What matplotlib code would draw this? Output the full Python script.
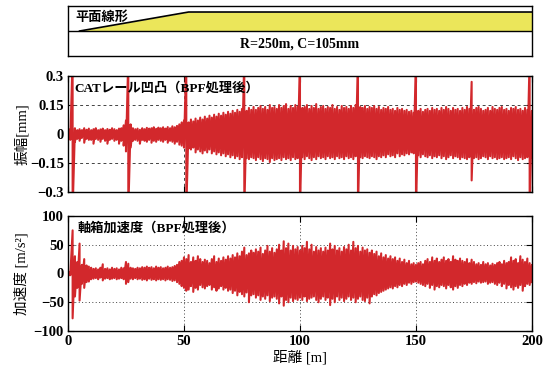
import numpy as np
import matplotlib
matplotlib.use('Agg')
import matplotlib.pyplot as plt

plt.rcParams['font.family'] = ['Liberation Serif', 'Noto Sans CJK JP']
plt.rcParams['font.weight'] = 'bold'
plt.rcParams['font.size'] = 10

# 距離 [m]（1 m ごと）
dist = np.arange(0, 201)

# 平面線形（緩和曲線 → 円曲線）
curve_x = [5, 52, 200]
curve_y = [0.5, 0.88, 0.88]

# CATレール凹凸（上側・下側包絡）[mm]
rail_upper = [
    0.02, 0.025, 0.40, 0.03, 0.02, 0.025, 0.02, 0.03, 0.022, 0.028,
    0.02, 0.025, 0.03, 0.02, 0.024, 0.028, 0.02, 0.026, 0.022, 0.03,
    0.025, 0.02, 0.028, 0.03, 0.045, 0.07, 0.40, 0.05, 0.03, 0.025,
    0.028, 0.022, 0.03, 0.025, 0.032, 0.028, 0.03, 0.035, 0.027, 0.033,
    0.03, 0.035, 0.028, 0.036, 0.03, 0.04, 0.035, 0.042, 0.05, 0.06,
    0.07, 0.40, 0.06, 0.075, 0.065, 0.08, 0.07, 0.085, 0.075, 0.09,
    0.08, 0.095, 0.085, 0.1, 0.09, 0.105, 0.095, 0.11, 0.1, 0.115,
    0.105, 0.12, 0.11, 0.125, 0.115, 0.13, 0.40, 0.12, 0.135, 0.125,
    0.14, 0.125, 0.135, 0.145, 0.13, 0.14, 0.125, 0.15, 0.135, 0.14,
    0.13, 0.15, 0.135, 0.145, 0.155, 0.13, 0.145, 0.135, 0.15, 0.14,
    0.40, 0.135, 0.14, 0.15, 0.13, 0.145, 0.135, 0.155, 0.13, 0.14,
    0.145, 0.13, 0.14, 0.135, 0.15, 0.13, 0.14, 0.125, 0.145, 0.135,
    0.14, 0.13, 0.145, 0.135, 0.15, 0.40, 0.14, 0.135, 0.145, 0.13,
    0.14, 0.135, 0.145, 0.13, 0.14, 0.125, 0.135, 0.13, 0.14, 0.125,
    0.13, 0.12, 0.135, 0.125, 0.13, 0.12, 0.125, 0.115, 0.12, 0.11,
    0.40, 0.12, 0.13, 0.115, 0.125, 0.13, 0.12, 0.135, 0.125, 0.13,
    0.12, 0.135, 0.125, 0.14, 0.13, 0.12, 0.135, 0.125, 0.13, 0.12,
    0.135, 0.125, 0.14, 0.13, 0.27, 0.125, 0.135, 0.14, 0.13, 0.12,
    0.125, 0.135, 0.12, 0.14, 0.13, 0.125, 0.135, 0.14, 0.125, 0.13,
    0.12, 0.135, 0.13, 0.14, 0.125, 0.13, 0.12, 0.135, 0.125, 0.40,
    0.12]
rail_lower = [
    -0.025, -0.03, -0.40, -0.04, -0.025, -0.035, -0.02, -0.045, -0.025, -0.03,
    -0.03, -0.05, -0.025, -0.03, -0.04, -0.025, -0.035, -0.05, -0.03, -0.025,
    -0.035, -0.03, -0.05, -0.035, -0.06, -0.09, -0.40, -0.07, -0.035, -0.03,
    -0.035, -0.05, -0.03, -0.035, -0.04, -0.03, -0.045, -0.035, -0.04, -0.03,
    -0.035, -0.04, -0.03, -0.045, -0.035, -0.04, -0.05, -0.04, -0.055, -0.06,
    -0.07, -0.40, -0.075, -0.08, -0.07, -0.095, -0.08, -0.09, -0.1, -0.085,
    -0.095, -0.08, -0.1, -0.09, -0.105, -0.095, -0.11, -0.1, -0.115, -0.105,
    -0.12, -0.11, -0.125, -0.115, -0.13, -0.12, -0.40, -0.125, -0.13, -0.12,
    -0.125, -0.135, -0.12, -0.13, -0.14, -0.125, -0.13, -0.145, -0.125, -0.135,
    -0.13, -0.125, -0.135, -0.12, -0.13, -0.125, -0.135, -0.12, -0.13, -0.125,
    -0.40, -0.12, -0.13, -0.115, -0.125, -0.135, -0.12, -0.13, -0.115, -0.125,
    -0.12, -0.13, -0.115, -0.125, -0.12, -0.13, -0.115, -0.125, -0.12, -0.13,
    -0.115, -0.125, -0.12, -0.13, -0.115, -0.40, -0.12, -0.125, -0.115, -0.12,
    -0.125, -0.115, -0.12, -0.13, -0.115, -0.12, -0.11, -0.12, -0.105, -0.115,
    -0.11, -0.12, -0.1, -0.115, -0.105, -0.11, -0.1, -0.105, -0.095, -0.1,
    -0.40, -0.11, -0.12, -0.105, -0.115, -0.12, -0.11, -0.125, -0.115, -0.12,
    -0.11, -0.125, -0.115, -0.13, -0.12, -0.11, -0.125, -0.115, -0.12, -0.13,
    -0.12, -0.125, -0.13, -0.12, -0.24, -0.125, -0.12, -0.13, -0.125, -0.115,
    -0.12, -0.13, -0.115, -0.125, -0.12, -0.13, -0.125, -0.12, -0.13, -0.125,
    -0.12, -0.13, -0.115, -0.125, -0.135, -0.12, -0.13, -0.125, -0.12, -0.40,
    -0.12]

# 軸箱加速度（上側・下側包絡）[m/s^2]
acc_upper = [
    5, 3, 75, 30, 20, 52, 15, 25, 14, 12,
    10, 8, 9, 7, 10, 16, 8, 9, 7, 10,
    8, 9, 7, 10, 9, 20, 17, 10, 9, 8,
    10, 9, 11, 10, 12, 10, 11, 9, 12, 10,
    11, 9, 10, 12, 10, 11, 13, 15, 20, 22,
    28, 25, 32, 20, 28, 22, 30, 25, 20, 24,
    22, 18, 25, 30, 20, 26, 22, 28, 24, 30,
    26, 32, 28, 35, 30, 38, 45, 32, 35, 40,
    36, 42, 38, 45, 34, 40, 48, 38, 44, 36,
    42, 50, 40, 56, 44, 52, 40, 48, 42, 46,
    40, 48, 44, 55, 42, 50, 38, 46, 40, 44,
    38, 45, 40, 52, 42, 48, 40, 44, 38, 46,
    42, 50, 40, 55, 44, 48, 38, 45, 40, 42,
    36, 40, 34, 38, 30, 35, 28, 32, 26, 30,
    25, 28, 22, 26, 20, 24, 18, 22, 16, 18,
    15, 18, 20, 16, 22, 25, 20, 28, 22, 26,
    20, 24, 28, 22, 25, 20, 30, 24, 22, 26,
    22, 20, 25, 18, 24, 20, 16, 18, 15, 20,
    16, 18, 14, 17, 15, 18, 20, 16, 22, 18,
    20, 28, 22, 25, 18, 30, 24, 20, 26, 18,
    15]
acc_lower = [
    -5, -3, -78, -40, -25, -47, -18, -25, -15, -14,
    -10, -9, -8, -10, -7, -12, -9, -8, -10, -9,
    -8, -10, -9, -8, -10, -18, -15, -9, -10, -8,
    -10, -9, -11, -10, -12, -9, -11, -10, -12, -10,
    -11, -10, -12, -10, -11, -13, -12, -15, -18, -22,
    -25, -30, -28, -22, -32, -25, -28, -20, -24, -26,
    -22, -20, -28, -24, -30, -26, -22, -28, -25, -30,
    -28, -34, -30, -38, -32, -36, -40, -33, -50, -38,
    -36, -42, -38, -46, -40, -44, -38, -48, -42, -40,
    -44, -52, -40, -56, -46, -50, -42, -48, -44, -46,
    -42, -46, -40, -48, -44, -42, -40, -46, -50, -44,
    -40, -46, -42, -55, -44, -50, -40, -46, -42, -48,
    -44, -40, -46, -42, -50, -44, -40, -46, -48, -42,
    -52, -40, -36, -38, -34, -32, -30, -28, -26, -24,
    -26, -22, -24, -20, -22, -18, -20, -16, -18, -15,
    -14, -16, -18, -20, -22, -18, -25, -20, -28, -22,
    -24, -20, -22, -26, -20, -24, -28, -22, -25, -20,
    -22, -18, -20, -16, -18, -15, -17, -14, -16, -15,
    -14, -18, -16, -15, -18, -20, -16, -22, -18, -26,
    -20, -24, -28, -22, -25, -20, -30, -22, -18, -20,
    -15]

red = '#d2282c'


def trace(upper, lower):
    # 上下包絡を交互につないで波形として描く
    xs = np.repeat(dist, 2)
    ys = np.column_stack([upper, lower]).ravel()
    return xs, ys


fig = plt.figure(figsize=(5.46, 3.67), dpi=100)
ax0 = fig.add_axes([0.1245, 0.8474, 0.8498, 0.1362])
ax1 = fig.add_axes([0.1245, 0.4768, 0.8498, 0.316])
ax2 = fig.add_axes([0.1245, 0.0981, 0.8498, 0.3134])

# 平面線形
ax0.set_xlim(0, 200)
ax0.set_ylim(0, 1)
ax0.fill_between(curve_x, 0.5, curve_y, color='#ebe65a', lw=0)
ax0.plot(curve_x, curve_y, color='black', lw=1.2)
ax0.axhline(0.5, color='black', lw=1.0)
ax0.set_xticks([])
ax0.set_yticks([])
ax0.text(0.017, 0.77, '平面線形', transform=ax0.transAxes, ha='left', va='center', fontsize=9.5)
ax0.text(0.5, 0.24, 'R=250m, C=105mm', transform=ax0.transAxes, ha='center', va='center', fontsize=10)

# CATレール凹凸
xs, ys = trace(rail_upper, rail_lower)
ax1.plot(xs, ys, color=red, lw=1.5)
ax1.set_xlim(0, 200)
ax1.set_ylim(-0.3, 0.3)
ax1.set_yticks([-0.3, -0.15, 0, 0.15, 0.3])
ax1.set_yticklabels(['−0.3', '−0.15', '0', '0.15', '0.3'])
ax1.set_xticks([0, 50, 100, 150, 200])
ax1.set_xticklabels([])
ax1.grid(True, color='#444444', lw=0.7, linestyle=(0, (3, 3)))
ax1.set_ylabel('振幅[mm]', fontsize=10.5)
ax1.yaxis.set_label_coords(-0.084, 0.5)
ax1.text(0.013, 0.897, 'CATレール凹凸（BPF処理後）', transform=ax1.transAxes,
         ha='left', va='center', fontsize=9.5, zorder=5)

# 軸箱加速度
xs, ys = trace(acc_upper, acc_lower)
ax2.plot(xs, ys, color=red, lw=1.5)
ax2.set_xlim(0, 200)
ax2.set_ylim(-100, 100)
ax2.set_yticks([-100, -50, 0, 50, 100])
ax2.set_xticks([0, 50, 100, 150, 200])
ax2.grid(True, color='#444444', lw=0.7, linestyle=(0, (1, 2.5)))
ax2.set_ylabel('加速度 [m/s²]', fontsize=10.5)
ax2.yaxis.set_label_coords(-0.086, 0.5)
ax2.set_xlabel('距離 [m]', fontsize=10.5)
ax2.xaxis.set_label_coords(0.5, -0.165)
ax2.text(0.02, 0.896, '軸箱加速度（BPF処理後）', transform=ax2.transAxes,
         ha='left', va='center', fontsize=9.5, zorder=5)

for ax in (ax0, ax1, ax2):
    for s in ax.spines.values():
        s.set_linewidth(1.0)
for ax in (ax1, ax2):
    ax.set_axisbelow(True)
    ax.tick_params(direction='in', top=True, right=True, length=4, width=0.8,
                   labelsize=10.5, pad=3)

fig.savefig('out.png', dpi=100)
